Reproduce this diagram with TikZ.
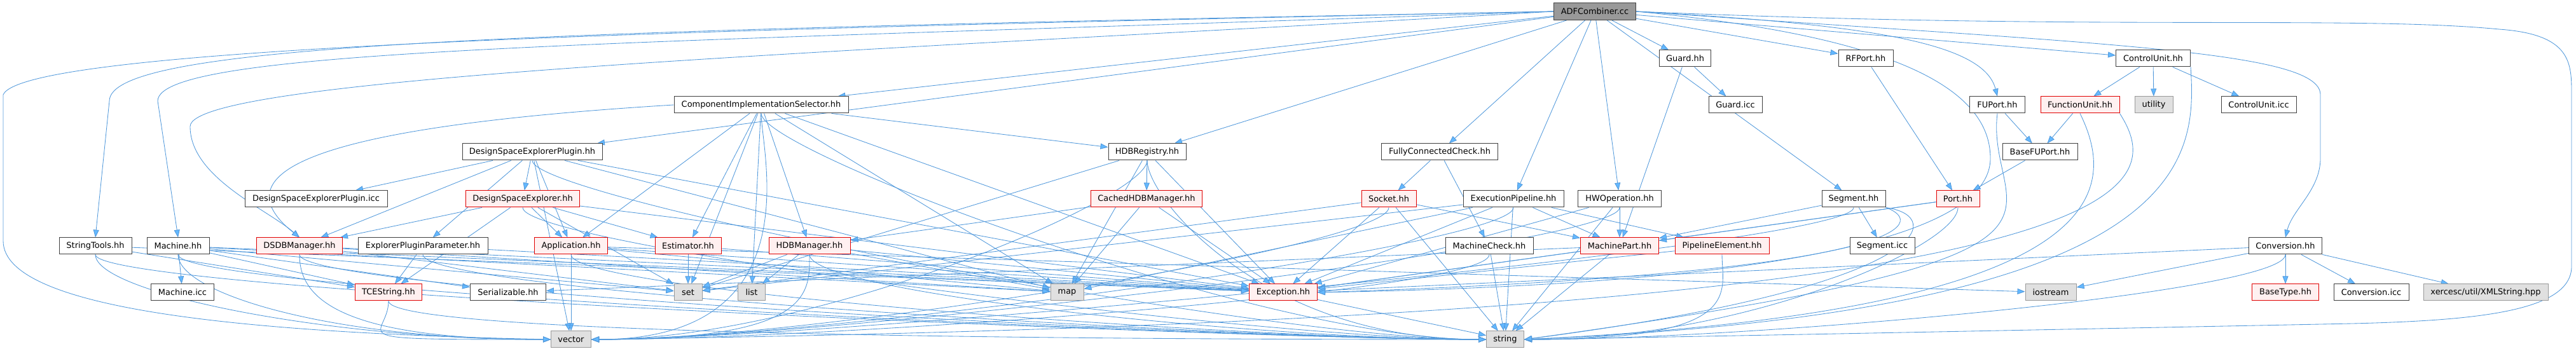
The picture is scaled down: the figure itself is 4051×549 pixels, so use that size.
\documentclass[tikz,border=0pt]{standalone}
\usepackage{fontspec}
\setmainfont{DejaVu Sans}
\usetikzlibrary{arrows.meta,backgrounds}
\definecolor{edgeblue}{HTML}{5299DB}
\definecolor{tipblue}{HTML}{63B8FF}
\definecolor{redfill}{HTML}{FFF0F0}
\definecolor{redline}{HTML}{E00000}
\definecolor{sysfill}{HTML}{E0E0E0}
\definecolor{sysline}{HTML}{999999}
\definecolor{rootfill}{HTML}{999999}
\definecolor{nodeline}{HTML}{404040}

\begin{document}
\begin{tikzpicture}[x=1bp,y=1bp,
  hfile/.style={draw=nodeline,fill=white,line width=1bp,minimum height=26bp,inner sep=0pt,font=\fontsize{13}{15}\selectfont},
  redfile/.style={hfile,draw=redline,fill=redfill},
  sysfile/.style={hfile,draw=sysline,fill=sysfill},
  rootfile/.style={hfile,fill=rootfill,minimum height=27bp},
  dep/.style={edgeblue,line width=0.85bp,-{Triangle[length=12bp,width=9bp,fill=tipblue]}}]
\useasboundingbox (0,0) rectangle (4051,549);
% root
\node[rootfile,minimum width=129bp] (adf) at (2508,531) {ADFCombiner.cc};
% row 1
\node[hfile,minimum width=81bp] (guard) at (2650,457) {Guard.hh};
\node[hfile,minimum width=86bp] (rfport) at (2934,457) {RFPort.hh};
\node[hfile,minimum width=117bp] (cu) at (3386,457) {ControlUnit.hh};
% row 2
\node[hfile,minimum width=274bp] (cis) at (1197,384) {ComponentImplementationSelector.hh};
\node[hfile,minimum width=84bp] (guardicc) at (2729,384) {Guard.icc};
\node[hfile,minimum width=87bp] (fuport) at (3141,384) {FUPort.hh};
\node[redfile,minimum width=124bp] (fu) at (3271,384) {FunctionUnit.hh};
\node[sysfile,minimum width=60bp] (utility) at (3387,384) {utility};
\node[hfile,minimum width=118bp] (cuicc) at (3552,384) {ControlUnit.icc};
% row 3
\node[hfile,minimum width=220bp] (dsep) at (837,310) {DesignSpaceExplorerPlugin.hh};
\node[hfile,minimum width=122bp] (hdbreg) at (1804,310) {HDBRegistry.hh};
\node[hfile,minimum width=183bp] (fcc) at (2264,310) {FullyConnectedCheck.hh};
\node[hfile,minimum width=118bp] (basefuport) at (3208,310) {BaseFUPort.hh};
% row 4
\node[hfile,minimum width=224bp] (dsepicc) at (497,236) {DesignSpaceExplorerPlugin.icc};
\node[redfile,minimum width=179bp] (dse) at (822,236) {DesignSpaceExplorer.hh};
\node[redfile,minimum width=175bp] (cached) at (1803,236) {CachedHDBManager.hh};
\node[redfile,minimum width=86bp] (socket) at (2184,236) {Socket.hh};
\node[hfile,minimum width=158bp] (execpipe) at (2380,236) {ExecutionPipeline.hh};
\node[hfile,minimum width=131bp] (hwop) at (2547,236) {HWOperation.hh};
\node[hfile,minimum width=100bp] (segment) at (2915,236) {Segment.hh};
\node[redfile,minimum width=68bp] (port) at (3079,236) {Port.hh};
% row 5
\node[hfile,minimum width=114bp] (strtools) at (150,162) {StringTools.hh};
\node[hfile,minimum width=98bp] (machine) at (280,162) {Machine.hh};
\node[redfile,minimum width=135bp] (dsdb) at (471,162) {DSDBManager.hh};
\node[hfile,minimum width=204bp] (epp) at (665,162) {ExplorerPluginParameter.hh};
\node[redfile,minimum width=115bp] (app) at (898,162) {Application.hh};
\node[redfile,minimum width=104bp] (est) at (1082,162) {Estimator.hh};
\node[redfile,minimum width=128bp] (hdbm) at (1273,162) {HDBManager.hh};
\node[hfile,minimum width=138bp] (mcheck) at (2342,162) {MachineCheck.hh};
\node[redfile,minimum width=123bp] (mpart) at (2547,162) {MachinePart.hh};
\node[redfile,minimum width=148bp] (pipeel) at (2708,162) {PipelineElement.hh};
\node[hfile,minimum width=102bp] (segicc) at (2960,162) {Segment.icc};
\node[hfile,minimum width=115bp] (conv) at (3594,162) {Conversion.hh};
% row 6
\node[hfile,minimum width=99bp] (machineicc) at (287,89) {Machine.icc};
\node[redfile,minimum width=105bp] (tcestr) at (611,89) {TCEString.hh};
\node[hfile,minimum width=119bp] (serial) at (799,89) {Serializable.hh};
\node[sysfile,minimum width=44bp] (set) at (1082,89) {set};
\node[sysfile,minimum width=43bp] (list) at (1182,89) {list};
\node[sysfile,minimum width=52bp] (map) at (1678,89) {map};
\node[redfile,minimum width=107bp] (exc) at (2018,89) {Exception.hh};
\node[sysfile,minimum width=80bp] (iostream) at (3225,89) {iostream};
\node[redfile,minimum width=105bp] (basetype) at (3594,89) {BaseType.hh};
\node[hfile,minimum width=118bp] (convicc) at (3729,89) {Conversion.icc};
\node[sysfile,minimum width=196bp] (xerces) at (3909,89) {xercesc/util/XMLString.hpp};
% row 7
\node[sysfile,minimum width=63bp] (vector) at (898,15) {vector};
\node[sysfile,minimum width=59bp] (string) at (2367,15) {string};

\begin{scope}[on background layer]
\foreach \a/\b in {adf/guard,adf/rfport,adf/cu,adf/cis,adf/hdbreg,adf/fcc,adf/execpipe,adf/hwop,adf/segment,adf/dsep,
  guard/guardicc,guard/mpart,rfport/port,cu/fu,cu/utility,cu/cuicc,fu/basefuport,fuport/basefuport,basefuport/port,
  port/mpart,port/exc,segment/mpart,segment/segicc,
  hwop/mpart,hwop/exc,hwop/string,
  execpipe/mpart,execpipe/pipeel,execpipe/exc,execpipe/string,execpipe/set,execpipe/map,
  socket/mpart,socket/string,socket/set,socket/exc,fcc/socket,fcc/mcheck,
  mcheck/string,mpart/string,mpart/exc,mpart/serial,pipeel/exc,
  conv/basetype,conv/convicc,conv/xerces,conv/iostream,conv/exc,
  hdbreg/cached,hdbreg/map,hdbreg/exc,hdbreg/set,
  cached/hdbm,cached/map,cached/exc,
  hdbm/set,hdbm/list,hdbm/map,hdbm/exc,est/set,est/exc,
  app/vector,app/exc,app/iostream,app/map,
  dse/app,dse/est,dse/dsdb,dse/set,dse/exc,dse/tcestr,
  dsep/dsepicc,dsep/dsdb,dsep/epp,dsep/dse,dsep/app,dsep/map,dsep/vector,dsep/exc,
  cis/app,cis/set,cis/est,cis/list,cis/hdbm,cis/hdbreg,cis/map,cis/exc,
  dsdb/set,dsdb/map,dsdb/exc,epp/tcestr,epp/exc,
  strtools/tcestr,strtools/exc,
  machine/machineicc,machine/tcestr,machine/serial,machine/exc,machine/set,machine/map,
  exc/string}
  \draw[dep] (\a) -- (\b);
% edges into the system headers along the bottom
\foreach \a in {strtools,machine,dsdb,tcestr}
  \draw[dep] (\a.south) .. controls +(0,-60) and +(-350,0) .. (vector.west);
\foreach \a in {hdbm,cis,hdbreg,socket,execpipe,hwop,mcheck,segment}
  \draw[dep] (\a.south) .. controls +(0,-60) and +(350,0) .. (vector.east);
\foreach \a in {strtools,machine,dsdb,epp,dse,dsep,app,cis,hdbm,hdbreg,tcestr}
  \draw[dep] (\a.south) .. controls +(0,-60) and +(-350,0) .. (string.west);
\foreach \a in {port,pipeel,conv}
  \draw[dep] (\a.south) .. controls +(0,-60) and +(350,0) .. (string.east);
% long routed edges
\draw[dep] (adf.west) .. controls (1200,505) and (40,480) .. (5,400) -- (5,170) .. controls (5,60) and (400,25) .. (vector.west);
\draw[dep] (adf.east) .. controls (3300,500) and (3700,525) .. (3930,503) .. controls (4044,495) and (4044,450) .. (4044,400)
  -- (4044,130) .. controls (4044,60) and (3900,45) .. (3700,40) .. controls (3200,30) and (2700,20) .. (string.east);
\draw[dep] (adf.west) .. controls (800,500) and (172,480) .. (172,390) -- (strtools.north);
\draw[dep] (adf.west) .. controls (1000,480) and (248,475) .. (248,390) -- (machine.north);
\draw[dep] (adf.west) .. controls (1400,470) and (299,430) .. (299,350) .. controls (299,270) and (420,220) .. (dsdb.north);
\draw[dep] (cis.west) .. controls (500,350) and (340,280) .. (dsdb.north);
\draw[dep] (adf.east) .. controls (3300,480) and (3649,470) .. (3649,400) -- (3649,300) .. controls (3649,250) and (3605,220) .. (conv.north);
\draw[dep] (adf.east) .. controls (2950,510) and (3120,480) .. (fuport.north);
\draw[dep] (adf.east) .. controls (2950,495) and (3130,420) .. (3130,300) .. controls (3130,160) and (2700,100) .. (exc.east);
\draw[dep] (cu.south east) .. controls (3454,300) and (3454,60) .. (string.east);
\draw[dep] (fu.south) .. controls (3330,250) and (3330,60) .. (string.east);
\draw[dep] (fu.south east) .. controls (3410,250) and (3400,50) .. (vector.east);
\draw[dep] (fuport.south) .. controls (3120,200) and (3370,150) .. (string.east);
\draw[dep] (segment.south east) .. controls (3030,200) and (3020,120) .. (exc.east);
\draw[dep] (segment.south east) .. controls (3060,210) and (3050,100) .. (string.east);
\end{scope}
\end{tikzpicture}
\end{document}
